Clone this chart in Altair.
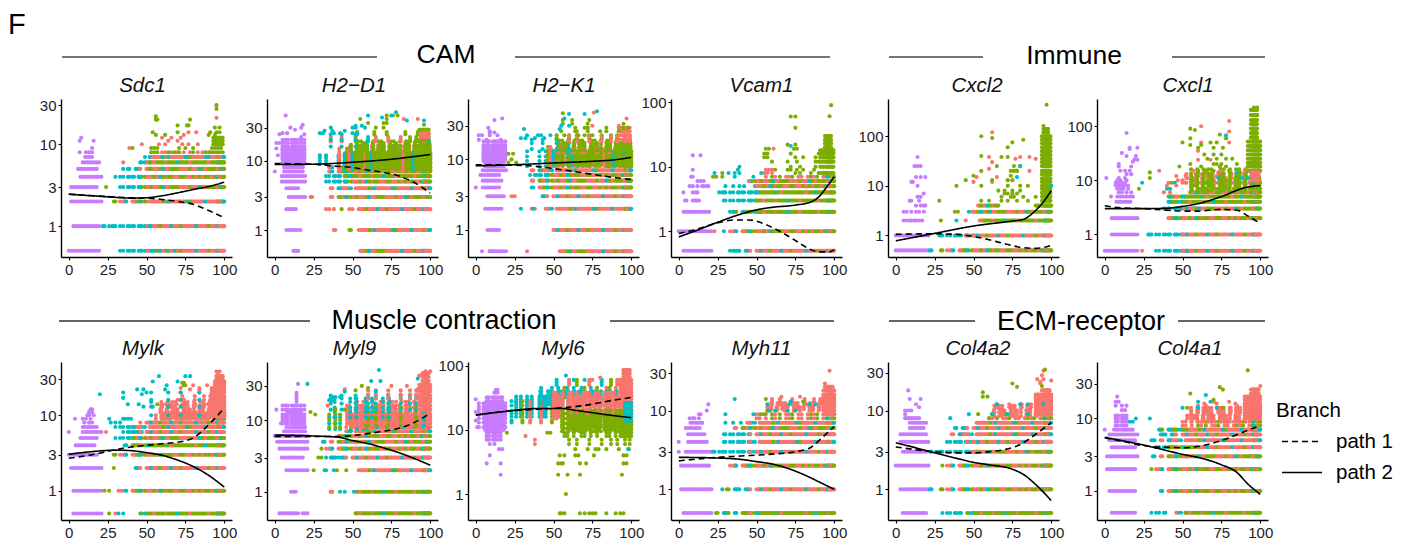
import altair as alt
import pandas as pd

COLORS = {"r": "#F8766D", "g": "#7CAE00", "t": "#00BFC4", "p": "#C77CFF"}
X_TICKS = [0, 25, 50, 75, 100]

SLOTS_A = [22,24,26,29,31,33,36,38,41,43,45,47,50,52,54,56,58,60,62,65,67,69,71,73,75,77,79,81,83,85,87,89,91,93,95,96,97,98,99,100]
SLOTS_B = [23,25,28,30,32,35,37,39,42,44,46,49,51,53,55,57,59,61,63,64,66,68,70,72,74,76,78,80,82,84,86,88,90,92,94,95.5,96.5,97.5,98.5,99.5]
SLOTS_C = [21.5,23.5,25.5,27,29.5,31.5,34,36.5,39.5,41.5,44.5,46.5,48,50.5,53.5,55.5,57.5,59.5,61.5,63.5,66.5,68.5,70.5,72.5,74.5,76.5,78.5,80.5,82.5,84.5,86.5,88.5,90.5,92.5,94.5,95,96,97,98,99]
SLOTS_D = [22.5,24.5,27.5,30.5,33.5,35.5,38.5,40,42.5,45.5,48.5,49.5,52.5,54.5,56.5,58.5,60.5,62.5,64.5,65.5,67.5,69.5,71.5,73.5,75.5,77.5,79.5,81.5,83.5,85.5,87.5,89.5,91.5,93.5,94,95,96,97,98,99]
SLOTS_P = [0,1.5,3,4.5,6,7.5,9,10.5,12,13.5,15,16.5,18,19.5,21]
SPARSE_P = [2,5,7,8.5,11,12.5,14,16,17,19]

BANDS = {
 "R1": "t.t.g.tt.tr.rtrrgrrrtrrgrrrrtrrrgrrtrrrr",
 "R2": ".t.tt.r.trrt.rrrrgrtrrrrrtgrrrrtrrrrgrrt",
 "G1": "g.g..tg.tggtggrgggrgggtgggrgggggrgggtggg",
 "G2": ".g.tg.t.ggrgtgggggtgrgggggggrggtggggrggg",
 "M1": "t..g.rt.rgtgrrgrtgrggrrggrrgrgrggrgtrgrg",
 "M2": ".tg.t.r.grtgrgrrgtrrgggrrrgrrtgrgggrrgtg",
 "T1": "t.tt.t.tt.ttrttgtrtgrtgrtrgtrrgtrgrtrgtr",
 "RR": "rrrrrrrrrrrrrrrrrrrrrrrrrrrrrrrrrrrrrrrr",
 "GG": "gggggggggggggggggggggggggggggggggggggggg",
 "TT": "tttttttttttttttttttttttttttttttttttttttt",
}
MASKS = {
 "F7": (SLOTS_A, "x.xx.xx.xxx.xx.x.xxx.xxx.xx.xxxx.xxx.xxx"),
 "F6": (SLOTS_C, "xx.x.xx..x.xx.xx.x.xxx..xx.x.xx.xx.x.x.x"),
 "F5": (SLOTS_B, "x..x.x.xx..x.x.xx.x..xx.x.x..xx.x.xx.x.xx"),
 "F4": (SLOTS_D, ".x..x.x...x.x..x.x...x.xx..x...x.x.x..x."),
 "F3": (SLOTS_A, "..x...x..x...x...x.x...x...x..x.x..x..x."),
 "F2": (SLOTS_B, "...x.....x...x.....x...x.....x...x....x."),
}

SDC1 = dict(title="Sdc1", tx=-4, dom=[0.42,35.7], yt=[1,3,10,30],
 rows=[(.5,"P",0,19.5),(.5,"T1",33,70),(.5,"R1",70,100),(1,"P",3,19.5),(1,"T1",22,52),(1,"R1",52,100),
  (2,"P",1.5,21),(2,"M1",29,50),(2,"R2",50,100),(3,"P",1.5,18),(3,"G2",22,24),(3,"T1",33,45),(3,"M2",45,100),
  (4,"P",7.5,21),(4,"T1",30,45),(4,"M1",45,100),(5,"P",6,18),(5,"T1",35,40),(5,"R1",40,52),(5,"M2",52,100),
  (6,"P",9,19.5),(6,"T1",46,52),(6,"G1",52,100),(7,"P",10.5,15),(7,"R2",53,100),([10,11,12],"GG",93,99)],
 cloud=dict(p={8:[7,11,13,15],9:[15],11:[7,16],12:[8]},
  r={6:[35],9:[39],10:[47,58,62,73,77,83],8:[60,62,66,70,74,78,83,86,90],11:[64,70],12:[60,66,72],14:[77,82],13:[74],21:[95]},
  g={8:[53,55,57,64,68,71,80,88,91,93,95,97,99],9:[41,53,55,57,71,75,80,92,94,96,98],13:[56,62,90,94],14:[54,70,91,95,97],16:[94,97],17:[70,76,77],20:[56,57,78],22:[56],27:[95],30:[95]},
  t={7:[49,52,60,75,90]}))

H2D1 = dict(title="H2\u2212D1", tx=1.5, dom=[0.408,77.7], yt=[1,3,10,30],
 rows=[(.5,"P",12,15),(.5,"M2",55,78),(.5,"R1",78,100),(1,"P",7.5,16.5),(1,"R2",54,100),(2,"P",7.5,13.5),(2,"R1",54,100),
  (3,"P",9,19.5),(3,"M2",36,100),(4,"P",7.5,15),(4,"R2",34,100),(5,"P",4.5,19.5),(5,"T1",33,45),(5,"M1",45,100),
  (6,"P",4.5,19.5),(6,"T1",33,50),(6,"G1",45,100),([7,8,9,10],"P",6,18),([11,12,13,14,15,16,18,20],"S:P",3,20),([9.5,10.5,11.5,12.5,14.5],"S:P",5,19),
  ([7,8],"M1",34,100),([9,10,11,12],"F7:T1",28,50),([7.2,8,8.7,9.5,10.2,11,11.8,12.8],"F7:M1",44,100),([8,9,10,11,12,14,16],"F4:RR",46,100),([7.6,8.4,9.2,10,10.8,11.6,12.4,13.5,15],"F6:M2",40,100),([7.5,8.2,9,9.7,10.5,11.2,12,13],"F7:G2",46,100),
  ([7.8,8.9,10,11.3,12.8,14.5,16.5,19],"F6:GG",52,100),([14,15,16,17],"F5:M1",44,100),([13.5,14.5,15.5,16.5,18],"F5:GG",50,100),([19,20,22],"F3:M2",36,100),([16,20,24],"F3:TT",30,58),([24,26],"F2:GG",50,100),([20,24,28],"GG",93,99),([22,25],"RR",94,99)],
 cloud=dict(p={24:[3,19],22:[17],25:[5,8],28:[13],30:[10,17],33:[18],45:[7],18:[1,3],15:[1],7:[0],12:[2]},
  r={1:[38,39],2:[33,35,38,48,50],3:[23,24],40:[83,92]},
  g={1:[48,49],2:[43],30:[65,70],35:[60,70,72],40:[55,72],45:[72,76,79],28:[94,98],33:[96]},
  t={25:[29,31,38,42,50,53],27:[32,37,45],30:[36,50,52,58],32:[52,56],38:[85,96],45:[60,75],50:[78],42:[69]}))

H2K1 = dict(title="H2\u2212K1", tx=10.5, dom=[0.414,71.7], yt=[1,3,10,30],
 rows=[(.5,"P",9,19.5),(.5,"M2",54,75),(.5,"R1",75,100),(1,"P",7.5,15),(1,"R1",48,100),(2,"P",6,16.5),(2,"R2",45,100),
  (3,"P",7.5,18),(3,"R1",40,100),(4,"P",4.5,15),(4,"M1",36,100),(5,"P",4.5,16.5),(5,"M2",36,100),(6,"P",3,15),(6,"T1",34,45),(6,"M1",45,100),
  (7,"P",4.5,19.5),(7,"R2",34,100),([8,9],"P",6,18),([10,11,12,13,14,15,16,18],"S:P",3,19),([9.5,10.5,11.5,12.5],"S:P",5,17),([8,9.5,11,13],"F7:T1",30,50),
  ([8,8.7,9.5,10.2,11,12],"F7:M1",46,100),([8.5,9.5,10.5,12,14],"F4:RR",46,100),([8.1,9,9.8,10.8,11.8,13.2,15],"F6:M2",42,100),([8.3,9.2,10.5,11.5,13],"F7:G2",46,100),([8.6,10,11.2,12.6,14.2,16.5,18.5],"F6:GG",52,100),
  ([12.5,14,15],"F5:M1",50,100),([13.5,15.5,17],"F5:GG",50,100),([14,17,19],"F3:TT",30,60),([20,22],"F3:GG",50,100),([25,28],"F2:GG",55,95),([18,21],"F3:RR",60,100),([19,22,25,28],"RR",93,99)],
 cloud=dict(p={4:[0],.5:[4,9,11],22:[2,4,9,14],19:[2,7,16],25:[9],28:[8],36:[12],38:[17],24:[9,12]},
  r={.5:[33],2:[36,38],3:[23,25],30:[75,92],38:[97],46:[76]},
  g={12:[21,24],10:[23],9:[21,26],22:[57,66,70,75],25:[55,65,80,92],28:[70,72,95,98],32:[56,62,72,95],36:[56,62,73],45:[56]},
  t={2:[29,37],20:[29,32,38,44],22:[33,40,42,48],27:[31,54],30:[55,60],38:[57],44:[60,70],48:[78]}))

VCAM1 = dict(title="Vcam1", tx=5, dom=[0.40,112], yt=[1,10,100],
 rows=[(.5,"P",3,21),(.5,"T1",31,36),(.5,"R1",35,100),(1,"P",0,21),(1,"M1",32,100),(2,"P",3,19.5),(2,"G1",30,100),
  (3,"T1",29,50),(3,"G1",50,100),(4,"T1",26,50),(4,"G2",50,100),(5,"F5:T1",28,55),(5,"M1",50,100),(6,"M2",46,100),(7,"F7:M1",55,100),
  ([8,10,12,14,16,18],"GG",91,99.5),([20,23,26,30],"GG",94,98)],
 cloud=dict(p={3:[4,5,9,10,11,12,13],4:[3,9,11,12],5:[7,9,12,15,16,18,19],6:[12,14,16],7:[8,9],9:[9],15:[9,14]},
  r={1:[23],8:[55,57,60],9:[56,58,60],19:[61],6:[45]},
  g={7:[22,24,28],8:[28,75,78,85,90],9:[62,70,72,76,80,87],10:[72,78,88],12:[60,70,76,88,90],14:[55,57,75,80,88],16:[55,57,72,90],19:[56,58,74,76],22:[70,75],40:[75],60:[72,75],90:[98],60.5:[97]},
  t={1:[29],8:[23,32,36,39,53],10:[39],9:[38],7:[36,48],21:[72]}))

CXCL2 = dict(title="Cxcl2", tx=3.5, dom=[0.368,562], yt=[1,10,100],
 rows=[(.5,"P",0,21),(.5,"M1",22,100),(1,"P",0,21),(1,"T1",28,50),(1,"R1",45,100),(2,"G1",54,100),(3,"M2",50,100),(4,"M1",53,66),(4,"GG",90,100),
  ([5,6,7.2,8.6,10,12,14,17,20,25,30,35,42,50,60,72,85,100],"GG",94,99.5),([120,140],"GG",95,98)],
 cloud=dict(p={2:[5,7,9,10,12,13,15,17],3:[5,7,10,13,15,18],4:[13,16,18,19],5:[9,10,15],6:[14,16],7:[18],10:[14],12:[10,11],15:[13,16,19],25:[12,14,16],38:[14]},
  r={2:[45],3:[49],12:[50,62],15:[52,65],22:[60],38:[60,80,86],30:[62],120:[62],35:[77,90],20:[78,86]},
  g={2:[29],3:[38,40],5:[28,55,60,68,72,78,85],6:[68,74,76,82,90],7:[70,72,75,78],8:[66,70,75,80],10:[39,55,72,80,85],13:[45,62,72,75],16:[50,74],20:[55,76,78,74],25:[76,80,65],38:[68,72],40:[55],60:[72],100:[55],75:[75],85:[82],92:[62],430:[97],160:[95]},
  t={2:[39],3:[47,55],25:[80],15:[78],10:[100]}))

CXCL1 = dict(title="Cxcl1", tx=5.5, dom=[0.383,318], yt=[1,10,100],
 rows=[(.5,"P",0,21),(.5,"T1",32,55),(.5,"R1",50,100),(1,"P",4.5,21),(1,"T1",28,50),(1,"R1",50,100),(2,"P",4.5,21),(2,"M1",38,100),
  (3,"T1",36,60),(3,"M2",55,100),(4,"P",7.5,16.5),(4,"G1",38,100),(5,"G2",38,100),(6,"M1",55,100),(7,"F7:GG",55,100),(8,"F5:GG",55,100),
  (9,"F7:M1",38,100),(10,"F5:GG",55,100),(11,"F5:M1",50,100),(12,"F3:GG",55,100),(14,"F3:M2",55,100),([9,11,13],"F4:RR",50,92),([6.5,7.5,8.5,9.5,10.5,12,13.5,16],"F6:GG",55,92),
  ([15,18,21,25,30,36,43,52],"GG",92,100),([62,75,90,110,130,160,200],"GG",94,98),([10,12,14],"RR",94,99)],
 cloud=dict(p={5:[4,8,10,12,14,16,18],6:[9,11,14,17],7:[8,10,12,15],8:[7,9,11,13,15],9:[7,9,11,13],10:[8,10,14],11:[1,9,13],13:[14,17],15:[10,13,16],18:[9,17],20:[9],24:[19,21],28:[14,20],22:[18],32:[11],40:[16,21],38:[16],75:[14]},
  r={.5:[24],6:[38,42],8:[40,46],10:[47,50],12:[46,52,65,72],15:[35,57,75,90],24:[60,68],35:[60],50:[62,80],60:[78],80:[80],100:[62],125:[80]},
  g={7:[22],14:[29],11:[29],20:[55,70,72,75,85],25:[66,72,78,82],30:[64,70,75],40:[70,76,60],50:[50,72,68],60:[55,78],45:[55,62],90:[55],85:[58],70:[74],15:[60,65,70,80],18:[48,62,74,78],220:[96,98]},
  t={9:[24],7:[40,42],5:[42],68:[78],14:[85],11:[73,88,92]}))

MYLK = dict(title="Mylk", tx=-3.5, dom=[0.41,50.8], yt=[1,3,10,30],
 rows=[(.5,"P",3,21),(.5,"G1",46,100),(1,"P",3,21),(1,"M1",36,100),(2,"P",1.5,21),(2,"R1",40,100),(3,"P",0,18),(3,"M1",24,100),
  (4,"P",4.5,16.5),(4,"G2",36,100),(5,"P",7.5,18),(5,"T1",30,45),(5,"M2",42,100),(6,"P",9,21),(6,"T1",34,48),(6,"R1",42,100),
  (7,"P",9,18),(7,"T1",30,42),(7,"R2",42,100),(8,"R1",46,100),([9,10],"F7:M1",56,100),([9.5,10.5],"F7:RR",60,100),([11,12],"F5:RR",58,100),([9.3,10.3,11.3,12.5,13.5,15],"F6:RR",56,92),([9,11,14],"F4:RR",60,92),
  ([13,14],"F3:RR",56,100),([16,18],"F3:RR",66,100),([20,23],"F2:RR",70,100),([10,13,16,20],"F2:TT",45,92),
  ([10,11,12,13,14,15,16,17,18,20],"RR",92,100),([22,24,26,28],"RR",94,100),([30,33],"RR",95,99)],
 cloud=dict(p={6:[0],8:[10,13,15],9:[4,9,11,14],10:[12,13,16],11:[13,14,15],12:[14,15]},
  r={6:[24],.5:[30],1:[32,34],38:[95,97],37:[96],16:[70,74],22:[78,84,92],25:[80,89]},
  g={.5:[26],1:[23,26],2:[29],14:[57],25:[74,75],27:[73,74]},
  t={.5:[32,35],8:[27,30,33],9:[26,35,36,38,40],13:[48,54],14:[38,45],15:[53],17:[35],19:[20,47],20:[35,50],22:[44,48,62],25:[63],28:[54,70],33:[58,75,78]}))

MYL9 = dict(title="Myl9", tx=2, dom=[0.404,64.7], yt=[1,3,10,30],
 rows=[(.5,"P",3,15),(.5,"P",18,21),(.5,"G1",52,100),(1,"P",10.5,13.5),(1,"R2",36,40),(1,"G1",53,100),(2,"P",7.5,21),(2,"R2",54,100),(3,"P",4.5,18),(3,"R1",36,100),
  (4,"P",3,21),(4,"M1",30,100),(5,"P",1.5,21),(5,"M2",30,100),(6,"P",0,21),(6,"M1",40,100),(7,"P",6,19.5),(7,"R2",46,100),(8,"P",7.5,19.5),([9,10,11,12,14,16],"S:P",5,19),([9.5,13],"S:P",10,18),
  ([7.5,9,11],"F5:TT",32,60),([8,10,12],"F5:GG",35,60),([9,11,14],"F4:GG",36,60),(8,"R1",46,100),([9,10,11,12],"F7:RR",50,100),([9,10,11,12,13,14.5,16],"F6:RR",46,92),([10,12,15,18],"F4:RR",50,92),([9.5,10.5,11.5],"F5:RR",50,100),([13,14,16,18],"F5:RR",50,100),([8.5,10,11,13,15],"F3:M1",46,100),([11,13,15,18,20],"F4:TT",36,75),([14,17,20,22],"F3:TT",34,92),([20,23,26],"F3:RR",56,100),
  ([14,16,18,20,22,25,28,31],"RR",93,100),([35,40,45],"RR",95,99)],
 cloud=dict(p={14:[1],9:[4],13:[8,10],18:[14],24:[14],22:[14],20:[14],32:[15]},
  r={1:[36],16:[34],27:[45,92],30:[75,85],48:[97,100],42:[93]},
  g={2:[25,32,40,46],3:[28,30],13:[23],12:[26],14:[39,45],30:[56],26:[52],28:[60]},
  t={2:[33,38],3:[33,41],1:[42,45,51],32:[21],21:[37,39,42],19:[35,37],25:[45,65],35:[62,68],50:[67],38:[92]}))

MYL6 = dict(title="Myl6", tx=9.5, dom=[0.394,114], yt=[1,10,100],
 rows=[([7,8,9],"S:P",6,16),([10,12,14,16,18,20,22,24],"P",6,18),([11,13,15,17,19,21,23,26],"S:P",2,20),([28,32],"S:P",6,18),
  ([16,18,20,22,24,26,28,30,33],"F7:TT",26,50),([13,14,16,18,20,24,28],"F5:M1",22,50),([32,36,40,45],"F5:T1",40,100),([25,28,31,35,40],"F6:TT",40,92),([50,55,60],"F3:T1",50,95),
  ([15,17,19,21,24,27,30,34,38],"F7:RR",50,100),([16,18,20,23,26,29,33],"F6:RR",50,100),([10,11,12,13,14,16],"F7:GG",54,100),([9.5,11,12,13.5,15,17,20],"F6:GG",54,100),([8,9,10.5,12.5,15,18],"F5:GG",54,100),([7,6],"F3:GG",54,100),(5,"F2:GG",54,100),
  ([33,38,43,48,53,60],"RR",93,100),([68,76,85],"RR",95,99),([8,9,10,12],"GG",93,100),([14,16,18,20,23,26],"TT",96,100)],
 cloud=dict(p={3:[7,16],4:[9],5:[15,17],6:[9,12],2:[16],14:[0],11:[1],30:[0],19:[0],38:[12,14],42:[13,14]},
  r={7:[38],6:[38],8:[32],60:[75],65:[80]},
  g={.5:[54,55,57,67,70,73,75,77,84,90,93,95],1:[58],2:[53,59,67,94],3:[53,55,56,67,71,95,97],4:[54,57,64,66,76,95,97],5:[77,79],9:[20,46,48]},
  t={70:[58],60:[63,70],5:[98]}))

MYH11 = dict(title="Myh11", tx=5, dom=[0.408,41.4], yt=[1,3,10,30],
 rows=[(.5,"P",3,21),(.5,"G2",24,100),(1,"P",1.5,21),(1,"R1",28,100),(2,"P",1.5,19.5),(2,"M1",32,100),(3,"P",4.5,21),(3,"T1",22,50),(3,"R1",46,100),
  (4,"P",6,18),(4,"T1",29,48),(4,"R2",46,100),(5,"P",6,16.5),(5,"T1",29,46),(5,"R1",46,100),(6,"P",4.5,13.5),(6,"M2",36,100),(7,"P",7.5,15),(7,"R2",44,100),
  ([8,9],"F7:M1",50,100),([10,11],"F5:RR",55,92),([10.5,11.5,12.5],"F6:RR",58,92),([12,13,14],"F3:RR",60,92),([9,10,11,12,13,14,15,16,18],"RR",93,100),(20,"RR",94,99)],
 cloud=dict(p={3:[0],4:[0],8:[7,9,10,13],9:[13,14],10:[18],12:[19],7:[15]},
  r={15:[66,78],32:[97],22:[94],12:[75,82,88]},
  g={14:[56],13:[80],9:[55,53],10:[57]},
  t={14:[36],10:[58,62,70,75],12:[57,71,84,88],9:[30,48],7:[30,35,40],13:[72]}))

COL4A2 = dict(title="Col4a2", tx=4.5, dom=[0.408,41.3], yt=[1,3,10,30],
 rows=[(.5,"P",4.5,19.5),(.5,"T1",30,44),(.5,"G1",46,100),(1,"P",3,21),(1,"M1",22,100),(2,"P",0,21),(2,"M1",30,100),(3,"P",4.5,19.5),(3,"T1",22,54),(3,"M2",50,100),
  (4,"P",3,21),(4,"T1",32,50),(4,"R1",46,100),(5,"P",3,19.5),(5,"R2",36,100),(6,"P",9,18),(6,"R1",38,100),(7,"P",9,19.5),(7,"R2",50,100),
  (8,"P",6,15),(8,"F7:M1",60,100),([9,10],"F5:RR",62,100),([8.5,9.5,10.5,11.5],"F6:RR",60,92),([11,12],"F3:RR",62,92),([9,10,11,12,13,14,15,16],"RR",90,100),(18,"RR",94,99)],
 cloud=dict(p={10:[6,8,10],11:[15],12:[13],14:[9,16],18:[8],9:[6]},
  r={23:[93],25:[91,95],28:[94],32:[95],24:[100],22:[93]},
  g={33:[96],22:[75],20:[78],17:[56],15:[56,59],20.5:[94],9:[53,62,71]},
  t={8:[35],9:[47,62,72,85],12:[65,80,85,95]}))

COL4A1 = dict(title="Col4a1", tx=7.5, dom=[0.398,60], yt=[1,3,10,30],
 rows=[(.5,"P",4.5,19.5),(.5,"T1",30,40),(.5,"R2",46,52),(.5,"G1",52,100),(1,"P",3,19.5),(1,"M1",36,100),(2,"P",1.5,19.5),(2,"M1",30,100),(3,"P",1.5,21),(3,"M2",30,100),
  (4,"P",4.5,19.5),(4,"T1",32,46),(4,"G2",40,60),(4,"R1",60,100),(5,"P",3,19.5),(5,"R2",30,100),(6,"P",3,21),(6,"R1",36,100),(7,"P",6,18),(7,"G1",35,55),(7,"R2",55,100),
  ([8,9,10,11],"S:P",6,15),([8,9],"F7:M1",46,100),([10,11],"F5:RR",50,100),([9,10,11,12,13,14],"F6:RR",54,92),([12,13,14],"F3:RR",56,92),(16,"F2:RR",60,92),([10,11,12,13,14,15,16,18,20],"RR",90,100),([22,25],"RR",94,99)],
 cloud=dict(p={7:[0],13:[11,13],15:[7,11,14],17:[7,9],20:[8]},
  r={19:[95,97],28:[100],17:[80,70],15:[60,65,85]},
  g={46:[92],27:[74],25:[76],22:[55],18:[70],14:[53,76]},
  t={10:[29,20],9:[16,18],21:[65],17:[60,68],14:[50,60,72]}))

CURVES = {
 "Sdc1": ([0,25,40,50,60,70,80,90,100],[2.46,2.28,2.2,2.22,2.35,2.55,2.8,3.05,3.44],[0,25,40,50,60,70,80,90,100],[2.45,2.3,2.22,2.2,2.12,2.0,1.85,1.55,1.27]),
 "H2\u2212D1": ([0,25,50,75,90,100],[8.8,8.9,9.5,10.5,11.5,12.3],[0,25,40,50,60,70,80,90,100],[9.1,8.9,8.3,8.0,7.3,6.8,6,4.8,3.4]),
 "H2\u2212K1": ([0,25,50,75,90,100],[8.1,8.4,8.9,9.4,9.9,10.7],[0,25,40,50,60,70,80,90,100],[8.4,8.3,7.9,7.4,6.9,6.4,5.9,5.5,5.2]),
 "Vcam1": ([0,10,25,40,50,60,75,85,90,95,100],[.82,1.0,1.38,1.85,2.15,2.35,2.55,2.85,3.4,4.8,7],[0,10,25,35,45,55,65,75,85,90,97,100],[.92,1.05,1.35,1.5,1.5,1.3,1.0,.72,.52,.48,.48,.52]),
 "Cxcl2": ([0,25,50,75,82,88,93,100],[.78,1.1,1.55,1.95,2.1,2.8,4,8],[0,25,40,50,60,70,80,90,100],[1.05,1.08,1.05,.95,.82,.68,.58,.55,.63]),
 "Cxcl1": ([0,25,40,50,60,75,90,100],[3.0,3.0,3.05,3.3,3.7,5,7.3,8],[0,10,25,40,50,60,75,85,92,100],[3.4,3.1,3.0,2.8,2.7,2.7,2.9,2.8,2.2,1.6]),
 "Mylk": ([0,15,30,40,50,60,70,80,90,100],[3.05,3.3,3.45,3.4,3.2,2.95,2.55,2.1,1.6,1.12],[0,15,30,40,50,60,70,80,90,100],[2.7,3.0,3.5,3.8,4.0,4.2,4.4,5,7.5,12.5]),
 "Myl9": ([0,25,40,50,60,70,80,90,100],[6.2,6,5.8,5.2,4.7,4.1,3.5,2.9,2.35],[0,25,40,50,60,70,80,90,100],[5.9,5.9,5.9,6.1,6.5,7,7.7,9.3,12.5]),
 "Myl6": ([0,20,40,55,65,75,90,100],[17,19.5,21.5,21.5,20,18.5,16.5,15.5],[0,20,40,55,70,85,100],[17,19.5,21,22,24,28,32]),
 "Myh11": ([0,25,40,50,60,70,80,90,100],[2.55,2.5,2.4,2.25,2.1,1.85,1.55,1.25,1.0],[0,25,40,60,75,85,92,100],[2.3,2.55,2.65,2.8,3.0,3.4,4.5,6.3]),
 "Col4a2": ([0,12,25,40,50,60,75,82,90,100],[3.9,3.4,2.9,2.45,2.2,2.05,1.8,1.55,1.15,.72],[0,12,25,40,50,60,70,80,90,100],[3.45,3.2,3,2.9,2.9,3.0,3.2,3.7,5,7]),
 "Col4a1": ([0,12,25,40,50,60,75,85,92,100],[5.5,4.9,4.3,3.6,3.2,2.9,2.3,1.8,1.25,.9],[0,12,25,40,50,60,70,80,90,100],[5.4,4.8,4.2,4.0,3.95,4.1,4.6,5.4,6.6,8]),
}

FONT = "Liberation Sans"

def band_points(v, name, x0, x1):
    if name == "P":
        return [dict(x=s, y=v, c="p") for s in SLOTS_P if x0 <= s <= x1]
    if name == "S:P":
        return [dict(x=s, y=v, c="p") for s in SPARSE_P if x0 <= s <= x1]
    if ":" in name:
        mask, col = name.split(":")
        slots, m = MASKS[mask]
        colours = BANDS[col]
        return [dict(x=s, y=v, c=c) for s, k, c in zip(slots, m, colours) if k == "x" and c != "." and x0 <= s <= x1]
    out = []
    for slots in (SLOTS_A, SLOTS_B):
        out += [dict(x=s, y=v, c=c) for s, c in zip(slots, BANDS[name]) if c != "." and x0 <= s <= x1]
    return out

def points_for(spec):
    recs = []
    for lv, name, x0, x1 in spec["rows"]:
        for v in (lv if isinstance(lv, list) else [lv]):
            recs += band_points(v, name, x0, x1)
    for k, d in spec["cloud"].items():
        for v, xs in d.items():
            recs += [dict(x=s, y=v, c=k) for s in xs]
    return pd.DataFrame(recs)

LEGEND = alt.Legend(title="Branch", orient="none", legendX=1268, legendY=393, symbolType="stroke", symbolSize=1600,
                    symbolStrokeWidth=1.5, clipHeight=29, labelOffset=13, titleFontSize=20.5, labelFontSize=20.5,
                    titleFontWeight="normal", titleFont=FONT, labelFont=FONT, titleColor="#000", labelColor="#000",
                    titlePadding=5.5, symbolOffset=5)

def panel(spec):
    ys = alt.Y("y:Q", scale=alt.Scale(type="log", domain=spec["dom"], nice=False),
               axis=alt.Axis(values=spec["yt"], labelExpr="datum.value", title=None, grid=False))
    xs = alt.X("x:Q", scale=alt.Scale(domain=[-5, 105], nice=False, zero=False),
               axis=alt.Axis(values=X_TICKS, title=None, grid=False))
    pts = alt.Chart(points_for(spec)).mark_circle(size=17, opacity=1).encode(
        x=xs, y=ys,
        color=alt.Color("c:N", scale=alt.Scale(domain=list(COLORS), range=list(COLORS.values())), legend=None))
    a, b, c, d = CURVES[spec["title"]]
    df = pd.DataFrame([dict(x=u, y=v, path="path 2") for u, v in zip(a, b)] + [dict(x=u, y=v, path="path 1") for u, v in zip(c, d)])
    lines = alt.Chart(df).mark_line(color="black", strokeWidth=1.6, interpolate="monotone").encode(
        x=xs, y=ys,
        strokeDash=alt.StrokeDash("path:N", scale=alt.Scale(domain=["path 1", "path 2"], range=[[6, 4], [1, 0]]), legend=LEGEND))
    head = alt.Chart(pd.DataFrame({"a": [0]})).mark_text(
        text=spec["title"], font=FONT, fontStyle="italic", fontSize=20.5, color="#111", align="center", baseline="middle"
    ).encode(x=alt.value(85.5 + spec["tx"]), y=alt.value(-13))
    return alt.layer(pts, lines, head).properties(width=171, height=158)

def spacer(w):
    return alt.Chart(pd.DataFrame({"a": [0]})).mark_rule(opacity=0).encode(y=alt.value(0)).properties(width=w, height=158)

def row(specs, gaps):
    cells = []
    for s, g in zip(specs, gaps):
        cells += [spacer(g), panel(s)]
    return alt.hconcat(*cells, spacing=0, bounds="flush")

def strip(height, rules, texts, color):
    base = alt.Chart(pd.DataFrame({"a": [0]}))
    layers = [base.mark_rule(color=color, strokeWidth=1.4).encode(x=alt.value(a), x2=alt.value(b), y=alt.value(y)) for a, b, y in rules]
    for t, x, y, size in texts:
        layers.append(base.mark_text(text=t, font=FONT, fontSize=size, color="#000", align="center", baseline="middle").encode(x=alt.value(x), y=alt.value(y)))
    return alt.layer(*layers).properties(width=1380, height=height)

top = strip(68,
    [(54, 369, 49), (507, 822, 49), (881, 975, 49), (1164, 1257, 49)],
    [("F", 8.9, 17, 29), ("CAM", 438, 47, 26.5), ("Immune", 1066, 48, 26.5)], "#4a4543")
mid = strip(62,
    [(51, 302, 44), (602, 826, 44), (881, 967, 44), (1170, 1257, 44)],
    [("Muscle contraction", 436, 44, 27), ("ECM-receptor", 1073, 45, 27)], "#333")

GAPS = [53, 35, 30, 32, 46, 38]
row1 = row([SDC1, H2D1, H2K1, VCAM1, CXCL2, CXCL1], GAPS)
row2 = row([MYLK, MYL9, MYL6, MYH11, COL4A2, COL4A1], GAPS)

chart = alt.vconcat(top, row1, mid, row2, spacing=0).configure(
    padding=0,
    view=alt.ViewConfig(stroke=None),
    axis=alt.AxisConfig(domainColor="#000", domainWidth=1.4, tickColor="#000", tickWidth=1.1, tickSize=3,
                        labelFont=FONT, labelFontSize=15, labelColor="#222", labelPadding=2),
)
chart.save("out.html", embed_options={"renderer": "svg", "actions": False})
